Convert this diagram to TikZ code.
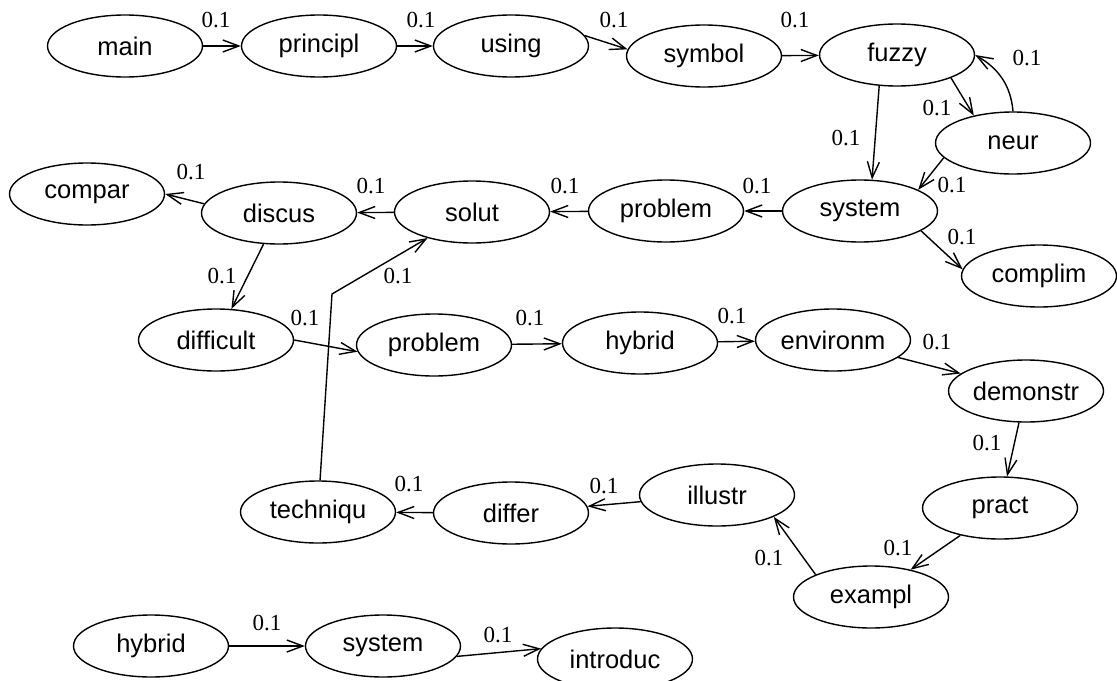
\documentclass[tikz,border=0pt]{standalone}
\usepackage{fontspec}
\newfontfamily\wordfont{Liberation Sans}
\newfontfamily\numfont{Liberation Serif}
\usetikzlibrary{arrows.meta, shapes.geometric}

\begin{document}
\begin{tikzpicture}
[x = 0.5pt, y = -0.5pt, line width = 0.7pt, >={Straight Barb[length=8pt, width=6pt]},
 word/.style = {ellipse, draw=black, minimum width=77.5pt, minimum height=31pt, inner sep=0pt, font=\wordfont\fontsize{12.75}{15}\selectfont},
 weight/.style = {font=\numfont\fontsize{11.5}{13}\selectfont, inner sep=0pt}]
\clip (0,0) rectangle (1117,680);

\node[word] (n1) at (125,46) {main};
\node[word] (n2) at (319,46) {principl};
\node[word] (n3) at (511,46) {using};
\node[word] (n4) at (704,56) {symbol};
\node[word] (n5) at (897,55) {fuzzy};
\node[word] (n6) at (1013,143) {neur};
\node[word] (n7) at (860,211) {system};
\node[word] (n8) at (666,211) {problem};
\node[word] (n9) at (472,212) {solut};
\node[word] (n10) at (279,213) {discus};
\node[word] (n11) at (87,194) {compar};
\node[word] (n12) at (1039,276) {complim};
\node[word] (n13) at (216,340) {difficult};
\node[word] (n14) at (434,345) {problem};
\node[word] (n15) at (640,343) {hybrid};
\node[word] (n16) at (833,340) {environm};
\node[word] (n17) at (1026,391) {demonstr};
\node[word] (n18) at (1000,508) {pract};
\node[word] (n19) at (871,597) {exampl};
\node[word] (n20) at (717,495) {illustr};
\node[word] (n21) at (511,513) {differ};
\node[word] (n22) at (318,512) {techniqu};
\node[word] (n23) at (151,646) {hybrid};
\node[word] (n24) at (383,646) {system};
\node[word] (n25) at (615,659) {introduc};
\coordinate (k1) at (332,294);

\node[weight] (l1) at (216,20) {0.1};
\node[weight] (l2) at (421,20) {0.1};
\node[weight] (l3) at (614,20) {0.1};
\node[weight] (l4) at (795,20) {0.1};
\node[weight] (l5) at (937,108) {0.1};
\node[weight] (l6) at (846,138) {0.1};
\node[weight] (l7) at (1027,58) {0.1};
\node[weight] (l8) at (952,185) {0.1};
\node[weight] (l9) at (962,237) {0.1};
\node[weight] (l10) at (757,186) {0.1};
\node[weight] (l11) at (565,186) {0.1};
\node[weight] (l12) at (371,186) {0.1};
\node[weight] (l13) at (191,172) {0.1};
\node[weight] (l14) at (222,276) {0.1};
\node[weight] (l15) at (305,318) {0.1};
\node[weight] (l16) at (530,318) {0.1};
\node[weight] (l17) at (732,316) {0.1};
\node[weight] (l18) at (937,342) {0.1};
\node[weight] (l19) at (987,443) {0.1};
\node[weight] (l20) at (898,548) {0.1};
\node[weight] (l21) at (769,558) {0.1};
\node[weight] (l22) at (604,486) {0.1};
\node[weight] (l23) at (409,484) {0.1};
\node[weight] (l24) at (398,276) {0.1};
\node[weight] (l25) at (267,623) {0.1};
\node[weight] (l26) at (498,635) {0.1};

\draw[->] (n1) edge (n2) (n2) edge (n3) (n4) edge (n5) (n7) edge (n8) (n8) edge (n9) (n9) edge (n10)
  (n14) edge (n15) (n15) edge (n16) (n17) edge (n18) (n18) edge (n19) (n20) edge (n21) (n21) edge (n22)
  (n23) edge (n24) (n10) edge (n13);
\draw[->] (n3.8) -- (n4.175);
\draw[->] (n5.-23) -- (n6.145);
\draw[->] (n5.-120) -- (n7.69);
\draw[->] (n6.north) to[out=95, in=-30] (n5.east);
\draw[->] (n6.-168) -- (n7.20);
\draw[->] (n7.-18) -- (n12.175);
\draw[->] (n10.173) -- (n11.east);
\draw[->] (n13.east) -- (n14.185);
\draw[->] (n16.-15) -- (n17.165);
\draw[->] (n19.158) -- (n20.-21);
\draw[->] (n22) -- (k1) -- (n9);
\draw[->] (n24.-8) -- (n25.172);

\end{tikzpicture}
\end{document}
